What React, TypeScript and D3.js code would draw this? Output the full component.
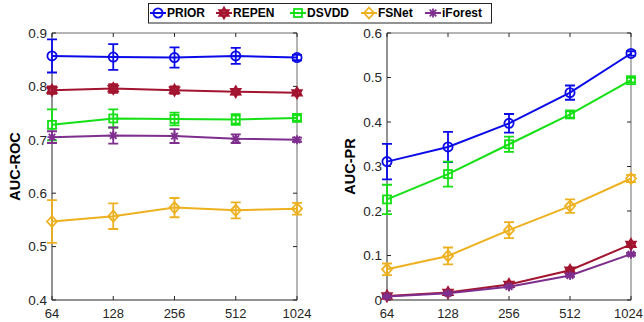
import React, { useEffect, useRef } from 'react'
import * as d3 from 'd3'

const sizes = ['64', '128', '256', '512', '1024']
const methods = ['PRIOR', 'REPEN', 'DSVDD', 'FSNet', 'iForest']

// AUC-ROC means and error half-widths, per method
const rocPrior = [0.857, 0.855, 0.854, 0.857, 0.854]
const rocPriorErr = [0.031, 0.024, 0.019, 0.015, 0.005]
const rocRepen = [0.793, 0.796, 0.793, 0.79, 0.788]
const rocRepenErr = [0.007, 0.008, 0.007, 0.005, 0.003]
const rocDsvdd = [0.728, 0.74, 0.739, 0.738, 0.741]
const rocDsvddErr = [0.029, 0.017, 0.012, 0.01, 0.005]
const rocFsnet = [0.547, 0.557, 0.573, 0.568, 0.571]
const rocFsnetErr = [0.04, 0.024, 0.018, 0.015, 0.011]
const rocIforest = [0.705, 0.708, 0.707, 0.702, 0.7]
const rocIforestErr = [0.011, 0.015, 0.013, 0.008, 0.004]

// AUC-PR
const prPrior = [0.311, 0.344, 0.397, 0.466, 0.554]
const prPriorErr = [0.04, 0.034, 0.021, 0.016, 0.005]
const prRepen = [0.009, 0.017, 0.035, 0.067, 0.125]
const prRepenErr = [0.002, 0.002, 0.003, 0.003, 0.003]
const prDsvdd = [0.226, 0.283, 0.35, 0.417, 0.494]
const prDsvddErr = [0.033, 0.028, 0.017, 0.007, 0.005]
const prFsnet = [0.069, 0.099, 0.157, 0.211, 0.273]
const prFsnetErr = [0.013, 0.019, 0.018, 0.015, 0.008]
const prIforest = [0.008, 0.015, 0.03, 0.055, 0.103]
const prIforestErr = [0.002, 0.002, 0.002, 0.003, 0.003]

const rocTicks = [0.4, 0.5, 0.6, 0.7, 0.8, 0.9]
const prTicks = [0, 0.1, 0.2, 0.3, 0.4, 0.5, 0.6]

const colors = ['#0b0be8', '#a2142f', '#14e014', '#edb120', '#7e2f8e']
const shapes = ['circle', 'hexagram', 'square', 'diamond', 'asterisk']

const FONT = 'Liberation Sans, Arial, Helvetica, sans-serif'

const drawMarker = (g, shape, color, x, y) => {
  const s = g.append('g').attr('transform', `translate(${x},${y})`)
    .attr('fill', 'none').attr('stroke', color).attr('stroke-width', 1.8)
  if (shape === 'circle') s.append('circle').attr('r', 4.6)
  else if (shape === 'square') s.append('rect').attr('x', -4).attr('y', -4).attr('width', 8).attr('height', 8)
  else if (shape === 'diamond') s.append('path').attr('d', 'M0,-5.5L5,0L0,5.5L-5,0Z')
  else if (shape === 'hexagram') {
    const r = 5.5
    const tri = a => d3.range(3).map(i => {
      const t = a + (i * 2 * Math.PI) / 3
      return [r * Math.cos(t), r * Math.sin(t)]
    })
    const p1 = tri(-Math.PI / 2), p2 = tri(Math.PI / 2)
    s.append('path').attr('d', 'M' + p1.join('L') + 'Z').attr('fill', color).attr('fill-opacity', 0.5)
    s.append('path').attr('d', 'M' + p2.join('L') + 'Z').attr('fill', color).attr('fill-opacity', 0.5)
  } else {
    s.append('path').attr('d', 'M0,-4.5V4.5M-4.5,0H4.5M-3.3,-3.3L3.3,3.3M-3.3,3.3L3.3,-3.3')
  }
}

const drawPanel = (svg, box, domain, ticks, fmt, label, series, errs) => {
  const x = d3.scalePoint().domain(sizes).range([box.left, box.right])
  const y = d3.scaleLinear().domain(domain).range([box.bottom, box.top])
  const g = svg.append('g')

  // box
  g.append('path')
    .attr('d', `M${box.left},${box.top}H${box.right}V${box.bottom}`)
    .attr('fill', 'none').attr('stroke', '#6b6b6b').attr('stroke-width', 1)
  g.append('path')
    .attr('d', `M${box.left},${box.top}V${box.bottom}H${box.right}`)
    .attr('fill', 'none').attr('stroke', '#262626').attr('stroke-width', 1)

  // ticks
  ticks.forEach(t => {
    g.append('path')
      .attr('d', `M${box.left},${y(t)}h4M${box.right},${y(t)}h-4`)
      .attr('stroke', '#262626')
    g.append('text')
      .attr('x', box.left - 5).attr('y', y(t)).attr('dy', '0.36em')
      .attr('text-anchor', 'end').attr('font-family', FONT).attr('font-size', 13.5)
      .attr('fill', '#262626').text(fmt(t))
  })
  sizes.forEach(s => {
    g.append('path')
      .attr('d', `M${x(s)},${box.bottom}v-4M${x(s)},${box.top}v4`)
      .attr('stroke', '#262626')
    const t = g.append('text')
      .attr('x', x(s)).attr('y', box.bottom + 18)
      .attr('text-anchor', 'middle').attr('font-family', FONT).attr('font-size', 13)
      .attr('fill', '#262626').text(s)
    // keep the last label inside the page
    const w = t.node().getComputedTextLength()
    if (x(s) + w / 2 > 643) t.attr('x', 643 - w / 2)
  })

  g.append('text')
    .attr('transform', `translate(${box.left - 32},${(box.top + box.bottom) / 2}) rotate(-90)`)
    .attr('text-anchor', 'middle').attr('font-family', FONT).attr('font-size', 14.5)
    .attr('font-weight', 'bold').attr('fill', '#000').text(label)

  const line = d3.line().x((d, i) => x(sizes[i])).y(d => y(d))

  series.forEach((vals, k) => {
    const c = colors[k]
    const sg = g.append('g')
    sg.append('path').attr('d', line(vals)).attr('fill', 'none')
      .attr('stroke', c).attr('stroke-width', 2)
    vals.forEach((v, i) => {
      const cx = x(sizes[i])
      const e = errs[k][i]
      const y0 = y(v - e), y1 = y(v + e)
      sg.append('path')
        .attr('d', `M${cx},${y0}V${y1}M${cx - 5},${y0}h10M${cx - 5},${y1}h10`)
        .attr('stroke', c).attr('stroke-width', 1.8).attr('fill', 'none')
      drawMarker(sg, shapes[k], c, cx, y(v))
    })
  })
}

const App = () => {
  const ref = useRef()

  useEffect(() => {
    const svg = d3.select(ref.current)
    svg.selectAll('*').remove()

    drawPanel(svg, { left: 52, right: 297, top: 33, bottom: 300 }, [0.4, 0.9], rocTicks,
      d3.format('.1f'), 'AUC-ROC',
      [rocPrior, rocRepen, rocDsvdd, rocFsnet, rocIforest],
      [rocPriorErr, rocRepenErr, rocDsvddErr, rocFsnetErr, rocIforestErr])

    drawPanel(svg, { left: 387, right: 631, top: 33, bottom: 300 }, [0, 0.6], prTicks,
      t => (t === 0 ? '0' : d3.format('.1f')(t)), 'AUC-PR',
      [prPrior, prRepen, prDsvdd, prFsnet, prIforest],
      [prPriorErr, prRepenErr, prDsvddErr, prFsnetErr, prIforestErr])

    // legend
    const lg = svg.append('g')
    lg.append('rect').attr('x', 148.5).attr('y', 3.5).attr('width', 343).attr('height', 19.5)
      .attr('fill', '#fff').attr('stroke', '#262626').attr('stroke-width', 1)
    const starts = [150, 216, 290, 361, 425]
    methods.forEach((m, k) => {
      const x0 = starts[k]
      const cy = 13
      lg.append('path').attr('d', `M${x0},${cy}h16`).attr('stroke', colors[k]).attr('stroke-width', 2)
      drawMarker(lg, shapes[k], colors[k], x0 + 8, cy)
      lg.append('text').attr('x', x0 + 17).attr('y', cy).attr('dy', '0.36em')
        .attr('font-family', FONT).attr('font-size', 12).attr('font-weight', 'bold')
        .attr('fill', '#000').text(m)
    })
  }, [])

  return (
    <svg ref={ref} width={644} height={322}
      style={{ position: 'absolute', left: 0, top: 0, background: '#fff' }} />
  )
}

export default App
